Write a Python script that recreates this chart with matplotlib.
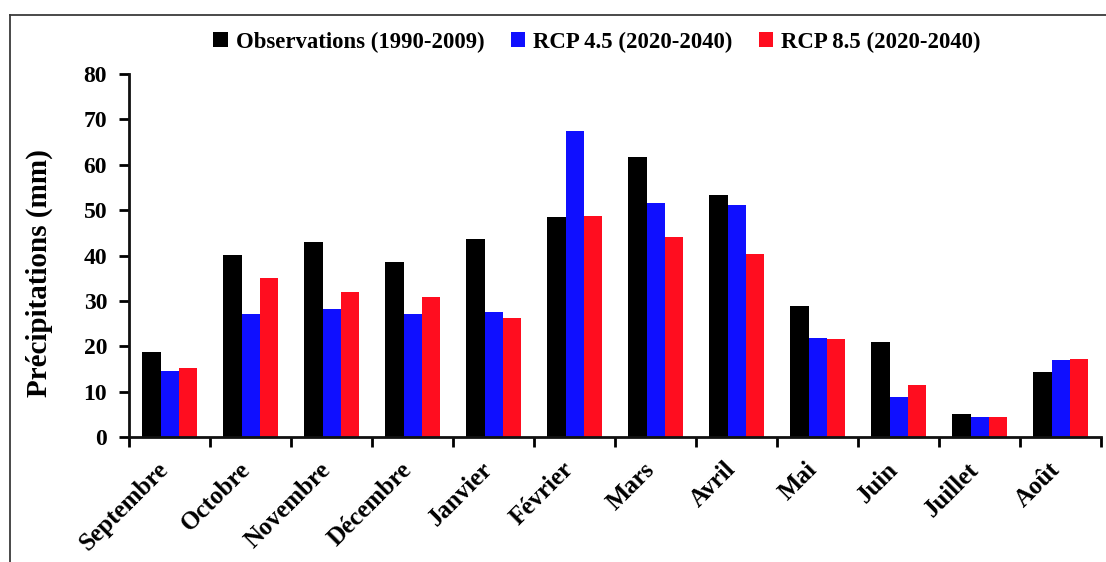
import matplotlib
matplotlib.use("Agg")
import matplotlib.pyplot as plt
from matplotlib.lines import Line2D
import numpy as np

months = ["Septembre", "Octobre", "Novembre", "Décembre", "Janvier", "Février",
          "Mars", "Avril", "Mai", "Juin", "Juillet", "Août"]
observations = [18.7, 40.2, 43.1, 38.7, 43.6, 48.6, 61.8, 53.3, 28.9, 20.9, 5.1, 14.3]
rcp45 = [14.5, 27.1, 28.3, 27.1, 27.6, 67.5, 51.5, 51.1, 21.9, 8.9, 4.4, 17.0]
rcp85 = [15.3, 35.0, 32.0, 30.8, 26.3, 48.7, 44.0, 40.4, 21.6, 11.5, 4.4, 17.2]
series_labels = ["Observations (1990-2009)", "RCP 4.5 (2020-2040)", "RCP 8.5 (2020-2040)"]
series_colors = ["#000000", "#0f0fff", "#ff0d1f"]
y_ticks = [0, 10, 20, 30, 40, 50, 60, 70, 80]

plt.rcParams["font.family"] = ["Liberation Serif", "DejaVu Serif"]
plt.rcParams["font.weight"] = "bold"

W, H = 1106, 562
fig = plt.figure(figsize=(W / 100, H / 100), dpi=100)
fig.patch.set_facecolor("white")

ax_left, ax_right, ax_top, ax_bottom = 129.3, 1101.3, 74.0, 437.3
ax = fig.add_axes([ax_left / W, 1 - ax_bottom / H, (ax_right - ax_left) / W, (ax_bottom - ax_top) / H])

x = np.arange(len(months))
bw = 0.227
for i, (vals, lab, col) in enumerate(zip([observations, rcp45, rcp85], series_labels, series_colors)):
    ax.bar(x + (i - 1) * bw, vals, width=bw, color=col, label=lab, edgecolor="none")

ax.set_xlim(-0.5, len(months) - 0.5)
ax.set_ylim(0, 80)
ax.set_yticks(y_ticks)
ax.set_yticklabels([str(v) for v in y_ticks], fontsize=17, fontweight="bold")

# Category boundaries carry the tick marks; month names sit on the centres
ax.set_xticks(np.arange(len(months) + 1) - 0.5, minor=False)
ax.set_xticklabels([""] * (len(months) + 1))
ax.set_xticks(x, minor=True)
ax.set_xticklabels(months, minor=True, rotation=45, ha="right", va="baseline",
                   rotation_mode="anchor", fontsize=18, fontweight="bold")
ax.tick_params(axis="x", which="minor", length=0, pad=24)
ax.tick_params(axis="x", which="major", direction="out", length=7, width=2)
ax.tick_params(axis="y", direction="out", length=7, width=2, pad=9)

for s in ["top", "right"]:
    ax.spines[s].set_visible(False)
for s in ["left", "bottom"]:
    ax.spines[s].set_linewidth(2)
    ax.spines[s].set_color("#111111")

fig.text(39.5 / W, 1 - 273 / H, "Précipitations (mm)", rotation=90, ha="center", va="center",
         fontsize=21, fontweight="bold")

fig.legend(loc="center", bbox_to_anchor=(597 / W, 1 - 42 / H), ncol=3, frameon=False,
           prop={"weight": "bold", "size": 16.4},
           handlelength=0.64, handleheight=0.64, handletextpad=0.35, columnspacing=1.15)

# Outer frame (left and top edges)
frame_color = "#3a3a3a"
fig.add_artist(Line2D([9.5 / W, 9.5 / W], [0, 1 - 15 / H], transform=fig.transFigure,
                      color=frame_color, linewidth=1.3))
fig.add_artist(Line2D([9.5 / W, 1], [1 - 15 / H, 1 - 15 / H], transform=fig.transFigure,
                      color=frame_color, linewidth=1.3))

fig.savefig("out.png", dpi=100, facecolor="white")
